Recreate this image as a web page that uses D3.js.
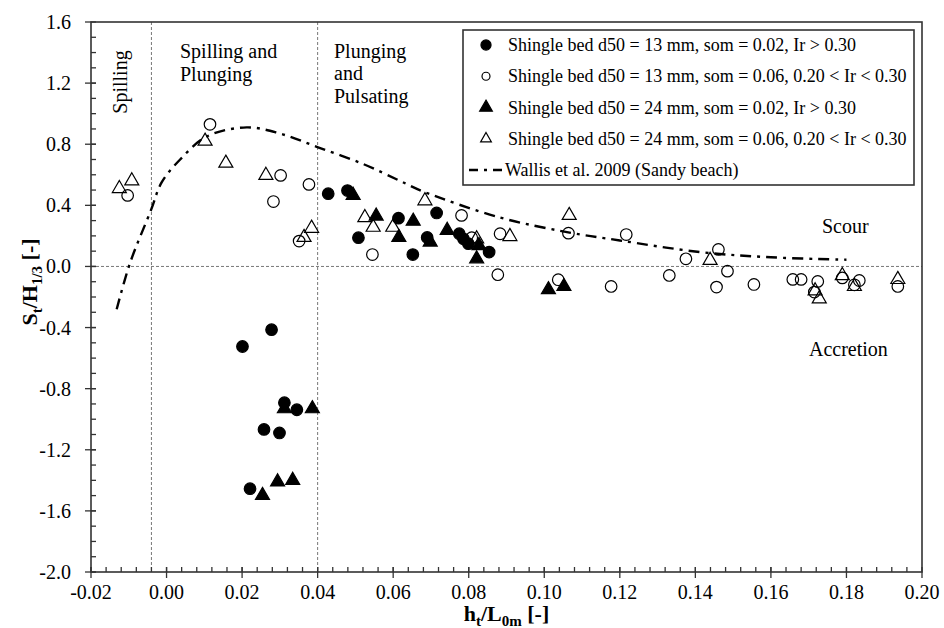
<!DOCTYPE html>
<html>
<head>
<meta charset="utf-8">
<script src="https://cdn.jsdelivr.net/npm/d3@7"></script>
<style>
  body { margin: 0; background: #fff; }
  svg { display: block; font-family: "Liberation Serif", "Times New Roman", serif; }
</style>
</head>
<body>
<svg width="944" height="628"></svg>
<script>
// data: [h_t/L_0m, S_t/H_1/3]
let shingle13Steep = [
  [0.0428, 0.476], [0.0479, 0.497], [0.0508, 0.188], [0.0614, 0.316], [0.0652, 0.078],
  [0.069, 0.19], [0.0715, 0.35], [0.0775, 0.214], [0.0786, 0.181], [0.0799, 0.149],
  [0.0854, 0.094], [0.0278, -0.414], [0.0201, -0.524], [0.0312, -0.892], [0.0345, -0.938],
  [0.0258, -1.067], [0.0299, -1.09], [0.0221, -1.455]
];
let shingle13Mild = [
  [-0.0103, 0.465], [0.0115, 0.93], [0.0302, 0.596], [0.0283, 0.425], [0.0377, 0.537],
  [0.0351, 0.166], [0.0545, 0.078], [0.0781, 0.334], [0.0808, 0.188], [0.0883, 0.214],
  [0.0877, -0.054], [0.1037, -0.087], [0.1064, 0.218], [0.1177, -0.131], [0.1217, 0.209],
  [0.1331, -0.059], [0.1375, 0.05], [0.1461, 0.111], [0.1485, -0.031], [0.1456, -0.135],
  [0.1555, -0.118], [0.1658, -0.085], [0.168, -0.085], [0.1724, -0.098], [0.1715, -0.168],
  [0.1789, -0.075], [0.1834, -0.092], [0.1821, -0.12], [0.1936, -0.131]
];
let shingle24Steep = [
  [0.0494, 0.465], [0.0555, 0.33], [0.0615, 0.19], [0.0653, 0.296], [0.0698, 0.16],
  [0.0743, 0.236], [0.0827, 0.137], [0.0821, 0.05], [0.1011, -0.152], [0.1052, -0.131],
  [0.0312, -0.931], [0.0386, -0.931], [0.0254, -1.499], [0.0294, -1.41], [0.0334, -1.40]
];
let shingle24Mild = [
  [-0.0125, 0.51], [-0.0092, 0.56], [0.0102, 0.82], [0.0157, 0.676], [0.0263, 0.596],
  [0.0364, 0.19], [0.0384, 0.25], [0.0525, 0.32], [0.0547, 0.257], [0.0599, 0.257],
  [0.0684, 0.43], [0.0821, 0.181], [0.0909, 0.196], [0.1066, 0.334], [0.1439, 0.04],
  [0.1728, -0.212], [0.1717, -0.16], [0.1789, -0.06], [0.1821, -0.131], [0.1936, -0.085]
];
let wallisCurve = [
  [-0.0132, -0.28], [-0.0097, 0.02], [-0.0041, 0.37], [-0.0013, 0.55], [0.0036, 0.70],
  [0.0106, 0.85], [0.0212, 0.91], [0.03, 0.87], [0.0401, 0.78], [0.0521, 0.67],
  [0.0618, 0.56], [0.068, 0.49], [0.0883, 0.32], [0.106, 0.225], [0.12, 0.17],
  [0.1413, 0.094], [0.16, 0.06], [0.18, 0.044]
];

let xTicks = [-0.02, 0.00, 0.02, 0.04, 0.06, 0.08, 0.10, 0.12, 0.14, 0.16, 0.18, 0.20];
let yTicks = [-2.0, -1.6, -1.2, -0.8, -0.4, 0.0, 0.4, 0.8, 1.2, 1.6];
let regionBounds = [-0.004, 0.04];

let legendLabels = [
  'Shingle bed d50 = 13 mm, som = 0.02, Ir > 0.30',
  'Shingle bed d50 = 13 mm, som = 0.06, 0.20 < Ir < 0.30',
  'Shingle bed d50 = 24 mm, som = 0.02, Ir > 0.30',
  'Shingle bed d50 = 24 mm, som = 0.06, 0.20 < Ir < 0.30',
  'Wallis et al. 2009 (Sandy beach)'
];

let pLeft = 91, pTop = 22, pRight = 922, pBottom = 572;

let x = d3.scaleLinear().domain([-0.02, 0.20]).range([pLeft, pRight]);
let y = d3.scaleLinear().domain([-2.0, 1.6]).range([pBottom, pTop]);

let svg = d3.select('svg');
let axisColor = '#333';

// reference dashed lines
svg.append('line')
  .attr('x1', pLeft).attr('x2', pRight)
  .attr('y1', y(0)).attr('y2', y(0))
  .attr('stroke', '#777').attr('stroke-width', 1).attr('stroke-dasharray', '3,2');
svg.selectAll('.region')
  .data(regionBounds)
  .enter()
    .append('line')
    .attr('x1', d => x(d)).attr('x2', d => x(d))
    .attr('y1', pTop).attr('y2', pBottom)
    .attr('stroke', '#777').attr('stroke-width', 1).attr('stroke-dasharray', '3,2');

// frame
svg.append('rect')
  .attr('x', pLeft).attr('y', pTop)
  .attr('width', pRight - pLeft).attr('height', pBottom - pTop)
  .attr('fill', 'none').attr('stroke', axisColor).attr('stroke-width', 1.6);

// minor ticks (inside)
svg.selectAll('.yminor')
  .data(d3.range(-20, 16).map(d => d / 10))
  .enter()
    .append('line')
    .attr('x1', pLeft).attr('x2', pLeft + 5)
    .attr('y1', d => y(d)).attr('y2', d => y(d))
    .attr('stroke', axisColor).attr('stroke-width', 1.3);
svg.selectAll('.xminor')
  .data(d3.range(-5, 50).map(d => d * 0.004))
  .enter()
    .append('line')
    .attr('x1', d => x(d)).attr('x2', d => x(d))
    .attr('y1', pBottom).attr('y2', pBottom - 5)
    .attr('stroke', axisColor).attr('stroke-width', 1.3);

// major ticks (cross)
svg.selectAll('.ymajor')
  .data(yTicks)
  .enter()
    .append('line')
    .attr('x1', pLeft - 6).attr('x2', pLeft + 5)
    .attr('y1', d => y(d)).attr('y2', d => y(d))
    .attr('stroke', axisColor).attr('stroke-width', 1.3);
svg.selectAll('.xmajor')
  .data(xTicks)
  .enter()
    .append('line')
    .attr('x1', d => x(d)).attr('x2', d => x(d))
    .attr('y1', pBottom + 6).attr('y2', pBottom - 5)
    .attr('stroke', axisColor).attr('stroke-width', 1.3);

// tick labels
svg.selectAll('.ylab')
  .data(yTicks)
  .enter()
    .append('text')
    .attr('x', pLeft - 20)
    .attr('y', d => y(d) + 7)
    .attr('text-anchor', 'end')
    .attr('font-size', 20)
    .text(d => d.toFixed(1));
svg.selectAll('.xlab')
  .data(xTicks)
  .enter()
    .append('text')
    .attr('x', d => x(d))
    .attr('y', pBottom + 27)
    .attr('text-anchor', 'middle')
    .attr('font-size', 20)
    .text(d => d.toFixed(2));

// axis titles
let xt = svg.append('text')
  .attr('x', (pLeft + pRight) / 2).attr('y', 621)
  .attr('text-anchor', 'middle')
  .attr('font-size', 22).attr('font-weight', 'bold');
xt.append('tspan').text('h');
xt.append('tspan').attr('font-size', 15).attr('dy', 5).text('t');
xt.append('tspan').attr('dy', -5).text('/L');
xt.append('tspan').attr('font-size', 15).attr('dy', 5).text('0m');
xt.append('tspan').attr('dy', -5).text(' [-]');

let yt = svg.append('text')
  .attr('transform', 'translate(37,282) rotate(-90)')
  .attr('text-anchor', 'middle')
  .attr('font-size', 22).attr('font-weight', 'bold');
yt.append('tspan').text('S');
yt.append('tspan').attr('font-size', 15).attr('dy', 5).text('t');
yt.append('tspan').attr('dy', -5).text('/H');
yt.append('tspan').attr('font-size', 15).attr('dy', 5).text('1/3');
yt.append('tspan').attr('dy', -5).text(' [-]');

// region labels
svg.append('text')
  .attr('transform', 'translate(127,82) rotate(-90)')
  .attr('text-anchor', 'middle')
  .attr('font-size', 20)
  .text('Spilling');
svg.append('text').attr('x', 180).attr('y', 58).attr('font-size', 20).text('Spilling and');
svg.append('text').attr('x', 180).attr('y', 81).attr('font-size', 20).text('Plunging');
svg.append('text').attr('x', 334).attr('y', 58).attr('font-size', 20).text('Plunging');
svg.append('text').attr('x', 334).attr('y', 80).attr('font-size', 20).text('and');
svg.append('text').attr('x', 334).attr('y', 103).attr('font-size', 20).text('Pulsating');
svg.append('text').attr('x', 822).attr('y', 233).attr('font-size', 20).text('Scour');
svg.append('text').attr('x', 809).attr('y', 356).attr('font-size', 20).text('Accretion');

// Wallis curve
let line = d3.line()
  .x(d => x(d[0]))
  .y(d => y(d[1]))
  .curve(d3.curveCatmullRom);
svg.append('path')
  .attr('d', line(wallisCurve))
  .attr('fill', 'none')
  .attr('stroke', '#000')
  .attr('stroke-width', 2.4)
  .attr('stroke-dasharray', '11,6,3,6');

// markers
let circleSym = d3.symbol().type(d3.symbolCircle).size(105);
let triSym = d3.symbol().type(d3.symbolTriangle).size(85);

let series = [
  { data: shingle13Mild, sym: circleSym, fill: 'none' },
  { data: shingle24Mild, sym: triSym, fill: 'none' },
  { data: shingle13Steep, sym: circleSym, fill: '#000' },
  { data: shingle24Steep, sym: triSym, fill: '#000' }
];

series.forEach(s => {
  svg.append('g')
    .selectAll('path')
    .data(s.data)
    .enter()
      .append('path')
      .attr('d', s.sym())
      .attr('transform', d => 'translate(' + x(d[0]) + ',' + y(d[1]) + ')')
      .attr('fill', s.fill)
      .attr('stroke', '#000')
      .attr('stroke-width', 1.2);
});

// legend
let lg = svg.append('g');
lg.append('rect')
  .attr('x', 463).attr('y', 30)
  .attr('width', 451).attr('height', 155)
  .attr('fill', '#fff').attr('stroke', axisColor).attr('stroke-width', 1.6);

let legendSyms = [
  { sym: d3.symbol().type(d3.symbolCircle).size(80), fill: '#000' },
  { sym: d3.symbol().type(d3.symbolCircle).size(50), fill: 'none' },
  { sym: d3.symbol().type(d3.symbolTriangle).size(70), fill: '#000' },
  { sym: d3.symbol().type(d3.symbolTriangle).size(50), fill: 'none' }
];

lg.selectAll('.lsym')
  .data(legendSyms)
  .enter()
    .append('path')
    .attr('d', d => d.sym())
    .attr('transform', (d, i) => 'translate(486,' + (45 + i * 31.25) + ')')
    .attr('fill', d => d.fill)
    .attr('stroke', '#000')
    .attr('stroke-width', 1.2);

lg.append('line')
  .attr('x1', 469).attr('x2', 505)
  .attr('y1', 170).attr('y2', 170)
  .attr('stroke', '#000').attr('stroke-width', 2.4)
  .attr('stroke-dasharray', '9,6,3,6');

lg.selectAll('.ltext')
  .data(legendLabels)
  .enter()
    .append('text')
    .attr('x', (d, i) => i === 4 ? 505 : 508)
    .attr('y', (d, i) => 45 + i * 31.25 + 6)
    .attr('font-size', 18)
    .text(d => d);
</script>
</body>
</html>
